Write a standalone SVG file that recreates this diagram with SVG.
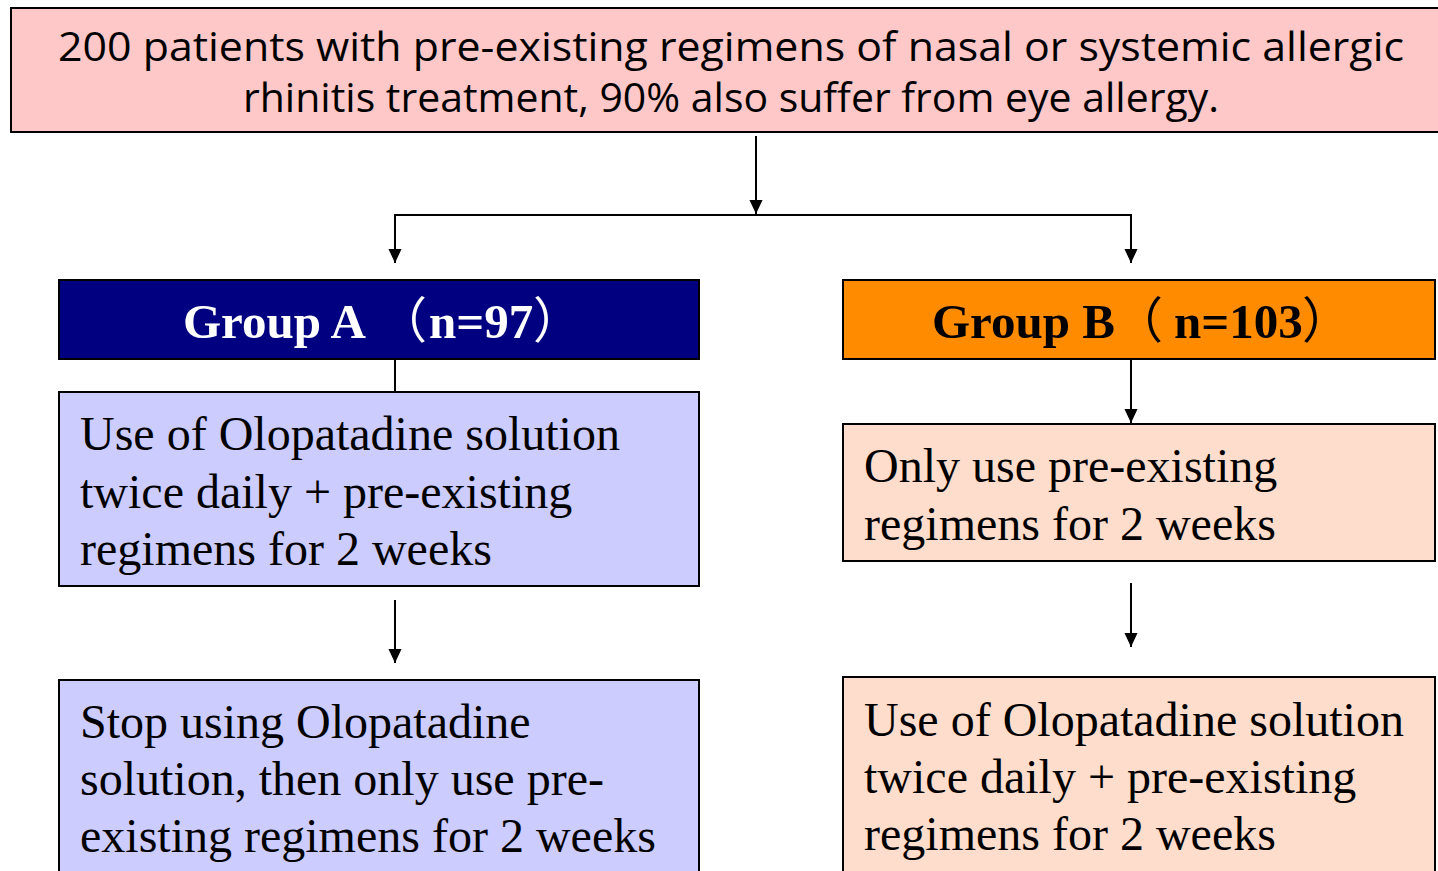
<svg xmlns="http://www.w3.org/2000/svg" width="1438" height="871" viewBox="0 0 1438 871">
<defs>
<style>
.box{stroke:#000;stroke-width:2}
.top{font-family:"Open Sans","DejaVu Sans",sans-serif;font-size:41px;fill:#000}
.hdr{font-family:"Liberation Serif","Noto Sans CJK SC",serif;font-size:49px;font-weight:bold}
.cjk{font-family:"Noto Sans CJK SC",sans-serif;font-weight:normal}
.body{font-family:"Liberation Serif","Times New Roman",serif;font-size:48px;fill:#000}
.ln{stroke:#000;stroke-width:2;fill:none}
</style>
<marker id="arr" markerWidth="14" markerHeight="15" refX="15" refY="7" orient="auto" markerUnits="userSpaceOnUse" viewBox="0 0 15 14">
<path d="M0,0 L15,7 L0,14 Z" fill="#000"/>
</marker>
</defs>
<rect width="1438" height="871" fill="#fff"/>
<g id="connectors">
<line class="ln" x1="756" y1="136" x2="756" y2="214" marker-end="url(#arr)"/>
<polyline class="ln" points="395,263 395,215 1131,215 1131,263"/>
<line class="ln" x1="395" y1="215" x2="395" y2="263" marker-end="url(#arr)"/>
<line class="ln" x1="1131" y1="215" x2="1131" y2="263" marker-end="url(#arr)"/>
<line class="ln" x1="395" y1="359" x2="395" y2="392"/>
<line class="ln" x1="395" y1="600" x2="395" y2="663" marker-end="url(#arr)"/>
<line class="ln" x1="1131" y1="359" x2="1131" y2="423" marker-end="url(#arr)"/>
<line class="ln" x1="1131" y1="583" x2="1131" y2="647" marker-end="url(#arr)"/>
</g>
<g id="top">
<rect class="box" x="11" y="8" width="1428" height="124" fill="#FFC8C8"/>
<text class="top" x="58" y="61" textLength="1346" lengthAdjust="spacingAndGlyphs">200 patients with pre-existing regimens of nasal or systemic allergic</text>
<text class="top" x="243" y="112" textLength="976" lengthAdjust="spacingAndGlyphs">rhinitis treatment, 90% also suffer from eye allergy.</text>
</g>
<g id="groupA">
<rect class="box" x="59" y="280" width="640" height="79" fill="#000080"/>
<text class="hdr" y="338" fill="#fff"><tspan x="183">Group A</tspan><tspan class="cjk" x="378">（</tspan><tspan x="429">n=97</tspan><tspan class="cjk" x="533">）</tspan></text>
</g>
<g id="groupA1">
<rect class="box" x="59" y="392" width="640" height="194" fill="#CCCCFF"/>
<text class="body" x="80" y="450">Use of Olopatadine solution</text>
<text class="body" x="80" y="508">twice daily + pre-existing</text>
<text class="body" x="80" y="565">regimens for 2 weeks</text>
</g>
<g id="groupA2">
<rect class="box" x="59" y="680" width="640" height="200" fill="#CCCCFF"/>
<text class="body" x="80" y="738">Stop using Olopatadine</text>
<text class="body" x="80" y="795">solution, then only use pre-</text>
<text class="body" x="80" y="852">existing regimens for 2 weeks</text>
</g>
<g id="groupB">
<rect class="box" x="843" y="280" width="592" height="79" fill="#FF8C00"/>
<text class="hdr" y="338" fill="#000"><tspan x="932">Group B</tspan><tspan class="cjk" x="1114">（</tspan><tspan x="1174">n=103</tspan><tspan class="cjk" x="1302">）</tspan></text>
</g>
<g id="groupB1">
<rect class="box" x="843" y="424" width="592" height="137" fill="#FFDDCC"/>
<text class="body" x="864" y="482">Only use pre-existing</text>
<text class="body" x="864" y="540">regimens for 2 weeks</text>
</g>
<g id="groupB2">
<rect class="box" x="843" y="677" width="592" height="200" fill="#FFDDCC"/>
<text class="body" x="864" y="736">Use of Olopatadine solution</text>
<text class="body" x="864" y="793">twice daily + pre-existing</text>
<text class="body" x="864" y="850">regimens for 2 weeks</text>
</g>
</svg>
